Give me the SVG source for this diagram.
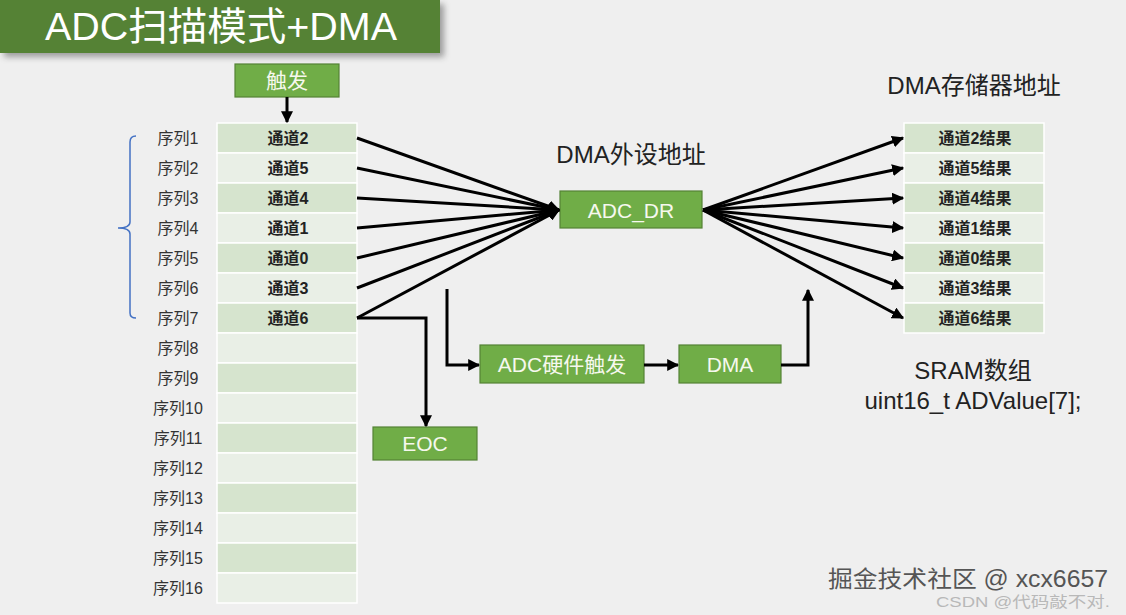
<svg xmlns="http://www.w3.org/2000/svg" width="1126" height="615" viewBox="0 0 1126 615">
<defs>
<style>
text{font-family:"Liberation Sans","Noto Sans CJK SC",sans-serif;}
.box{fill:#70ad47;stroke:#548235;stroke-width:1.2;}
.bt{fill:#f6f8ee;font-size:21px;text-anchor:middle;dominant-baseline:central;}
.r1{fill:#d6e4ce;stroke:#ffffff;stroke-width:1.5;}
.r2{fill:#e9efe6;stroke:#ffffff;stroke-width:1.5;}
.ct{fill:#222;font-size:16px;font-weight:bold;text-anchor:middle;dominant-baseline:central;}
.sq{fill:#333;font-size:16px;text-anchor:middle;dominant-baseline:central;}
.lbl{fill:#222;font-size:24px;text-anchor:middle;}
.ln{fill:none;stroke:#000;stroke-width:3;}
</style>
<marker id="ah" viewBox="0 0 10 10" refX="9" refY="5" markerWidth="4" markerHeight="4" orient="auto" markerUnits="strokeWidth">
<path d="M0,0 L10,5 L0,10 z" fill="#000"/>
</marker>
<filter id="sh" x="-5%" y="-10%" width="115%" height="140%">
<feDropShadow dx="4" dy="4" stdDeviation="3" flood-color="#000" flood-opacity="0.35"/>
</filter>
</defs>
<rect x="0" y="0" width="1126" height="615" fill="#efefef"/>

<g id="title">
<rect x="0" y="0" width="440" height="53" fill="#548235" filter="url(#sh)"/>
<text x="221" y="40" fill="#ffffff" font-size="39" text-anchor="middle" textLength="352" lengthAdjust="spacingAndGlyphs">ADC扫描模式+DMA</text>
</g>

<g id="trigger">
<rect class="box" x="235" y="64" width="104" height="33"/>
<text class="bt" x="287" y="80">触发</text>
</g>

<g id="bracket">
<path d="M136,136 Q130,136 130,142 L130,222 Q130,228 118,228 Q130,228 130,234 L130,313 Q130,318 136,318" fill="none" stroke="#4472c4" stroke-width="1.5"/>
</g>

<g id="sequence-table">
<rect class="r1" x="217" y="123" width="140" height="30"/>
<rect class="r2" x="217" y="153" width="140" height="30"/>
<rect class="r1" x="217" y="183" width="140" height="30"/>
<rect class="r2" x="217" y="213" width="140" height="30"/>
<rect class="r1" x="217" y="243" width="140" height="30"/>
<rect class="r2" x="217" y="273" width="140" height="30"/>
<rect class="r1" x="217" y="303" width="140" height="30"/>
<rect class="r2" x="217" y="333" width="140" height="30"/>
<rect class="r1" x="217" y="363" width="140" height="30"/>
<rect class="r2" x="217" y="393" width="140" height="30"/>
<rect class="r1" x="217" y="423" width="140" height="30"/>
<rect class="r2" x="217" y="453" width="140" height="30"/>
<rect class="r1" x="217" y="483" width="140" height="30"/>
<rect class="r2" x="217" y="513" width="140" height="30"/>
<rect class="r1" x="217" y="543" width="140" height="30"/>
<rect class="r2" x="217" y="573" width="140" height="30"/>
<text class="ct" x="288" y="138">通道2</text>
<text class="ct" x="288" y="168">通道5</text>
<text class="ct" x="288" y="198">通道4</text>
<text class="ct" x="288" y="228">通道1</text>
<text class="ct" x="288" y="258">通道0</text>
<text class="ct" x="288" y="288">通道3</text>
<text class="ct" x="288" y="318">通道6</text>
<text class="sq" x="178" y="138">序列1</text>
<text class="sq" x="178" y="168">序列2</text>
<text class="sq" x="178" y="198">序列3</text>
<text class="sq" x="178" y="228">序列4</text>
<text class="sq" x="178" y="258">序列5</text>
<text class="sq" x="178" y="288">序列6</text>
<text class="sq" x="178" y="318">序列7</text>
<text class="sq" x="178" y="348">序列8</text>
<text class="sq" x="178" y="378">序列9</text>
<text class="sq" x="178" y="408">序列10</text>
<text class="sq" x="178" y="438">序列11</text>
<text class="sq" x="178" y="468">序列12</text>
<text class="sq" x="178" y="498">序列13</text>
<text class="sq" x="178" y="528">序列14</text>
<text class="sq" x="178" y="558">序列15</text>
<text class="sq" x="178" y="588">序列16</text>
</g>

<g id="adc-dr">
<text class="lbl" x="631" y="163">DMA外设地址</text>
<rect class="box" x="560" y="191" width="142" height="37"/>
<text class="bt" x="631" y="210">ADC_DR</text>
</g>

<g id="result-table">
<text class="lbl" x="974" y="94">DMA存储器地址</text>
<rect class="r1" x="904" y="123" width="140" height="30"/>
<rect class="r2" x="904" y="153" width="140" height="30"/>
<rect class="r1" x="904" y="183" width="140" height="30"/>
<rect class="r2" x="904" y="213" width="140" height="30"/>
<rect class="r1" x="904" y="243" width="140" height="30"/>
<rect class="r2" x="904" y="273" width="140" height="30"/>
<rect class="r1" x="904" y="303" width="140" height="30"/>
<text class="ct" x="975" y="138">通道2结果</text>
<text class="ct" x="975" y="168">通道5结果</text>
<text class="ct" x="975" y="198">通道4结果</text>
<text class="ct" x="975" y="228">通道1结果</text>
<text class="ct" x="975" y="258">通道0结果</text>
<text class="ct" x="975" y="288">通道3结果</text>
<text class="ct" x="975" y="318">通道6结果</text>
<text class="lbl" x="973" y="379">SRAM数组</text>
<text class="lbl" x="973" y="409">uint16_t ADValue[7];</text>
</g>

<g id="adc-hw-trigger">
<rect class="box" x="480" y="345" width="164" height="38"/>
<text class="bt" x="562" y="364">ADC硬件触发</text>
</g>

<g id="dma">
<rect class="box" x="679" y="345" width="102" height="38"/>
<text class="bt" x="730" y="364">DMA</text>
</g>

<g id="eoc">
<rect class="box" x="373" y="427" width="104" height="33"/>
<text class="bt" x="425" y="443">EOC</text>
</g>

<g id="connectors">
<line class="ln" x1="287" y1="97" x2="287" y2="122" marker-end="url(#ah)" stroke-width="2.5"/>
<line class="ln" x1="357" y1="138" x2="559" y2="210" marker-end="url(#ah)"/>
<line class="ln" x1="357" y1="168" x2="559" y2="210" marker-end="url(#ah)"/>
<line class="ln" x1="357" y1="198" x2="559" y2="210" marker-end="url(#ah)"/>
<line class="ln" x1="357" y1="228" x2="559" y2="210" marker-end="url(#ah)"/>
<line class="ln" x1="357" y1="258" x2="559" y2="210" marker-end="url(#ah)"/>
<line class="ln" x1="357" y1="288" x2="559" y2="210" marker-end="url(#ah)"/>
<line class="ln" x1="357" y1="318" x2="559" y2="210" marker-end="url(#ah)"/>
<line class="ln" x1="703" y1="210" x2="903" y2="138" marker-end="url(#ah)"/>
<line class="ln" x1="703" y1="210" x2="903" y2="168" marker-end="url(#ah)"/>
<line class="ln" x1="703" y1="210" x2="903" y2="198" marker-end="url(#ah)"/>
<line class="ln" x1="703" y1="210" x2="903" y2="228" marker-end="url(#ah)"/>
<line class="ln" x1="703" y1="210" x2="903" y2="258" marker-end="url(#ah)"/>
<line class="ln" x1="703" y1="210" x2="903" y2="288" marker-end="url(#ah)"/>
<line class="ln" x1="703" y1="210" x2="903" y2="318" marker-end="url(#ah)"/>
<polyline class="ln" points="357,318 426,318 426,426" marker-end="url(#ah)"/>
<polyline class="ln" points="447,289 447,365 479,365" marker-end="url(#ah)"/>
<line class="ln" x1="644" y1="365" x2="678" y2="365" marker-end="url(#ah)"/>
<polyline class="ln" points="781,365 808,365 808,290" marker-end="url(#ah)"/>
</g>

<g id="watermark">
<text x="828" y="587" font-size="23" fill="#555555" textLength="280" lengthAdjust="spacingAndGlyphs">掘金技术社区 @ xcx6657</text>
<text x="936" y="607" font-size="15" fill="#b8b8b8" textLength="174" lengthAdjust="spacingAndGlyphs">CSDN @代码敲不对.</text>
</g>
</svg>
